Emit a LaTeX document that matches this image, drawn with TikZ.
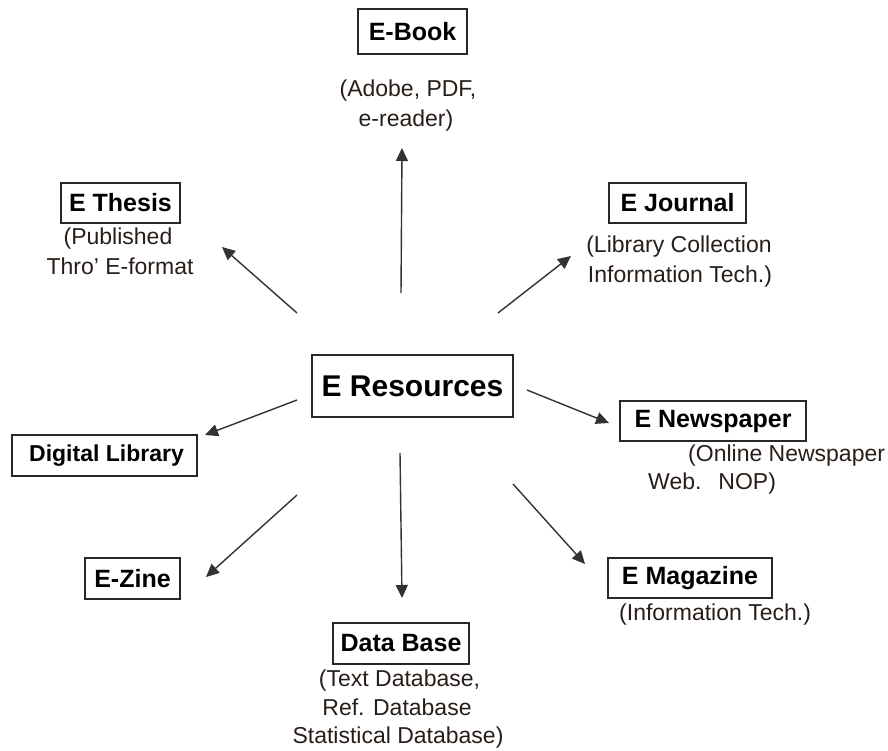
\documentclass[tikz,border=0pt]{standalone}
\usepackage{fontspec}
\setmainfont{Liberation Sans}
\usetikzlibrary{arrows.meta}
\definecolor{txt}{RGB}{40,30,25}
\definecolor{boxc}{RGB}{40,40,40}
\definecolor{linec}{RGB}{50,50,50}
\begin{document}
\begin{tikzpicture}[x=1pt,y=-1pt,
  box/.style={draw=boxc,line width=1.4pt,inner sep=0pt,text=black,
    font=\bfseries\fontsize{25}{30}\selectfont},
  note/.style={anchor=base,inner sep=0pt,text=txt,font=\fontsize{23}{29}\selectfont},
  link/.style={draw=linec,line width=1.4pt,-{Triangle[length=13pt,width=12pt]}}]
\useasboundingbox (0,0) rectangle (888,751);

% boxes
\node[box,minimum width=201pt,minimum height=62pt,font=\bfseries\fontsize{30}{36}\selectfont] (res) at (412.5,386) {E Resources};
\node[box,minimum width=109pt,minimum height=45pt] (ebook) at (412.5,31.5) {E-Book};
\node[box,minimum width=119pt,minimum height=40pt] (thesis) at (120.5,203) {E Thesis};
\node[box,minimum width=137pt,minimum height=40pt] (journal) at (677.5,203) {E Journal};
\node[box,minimum width=185pt,minimum height=41pt,font=\bfseries\fontsize{23}{28}\selectfont] (dlib) at (104.5,455.5) {\hspace{4pt}Digital Library};
\node[box,minimum width=95pt,minimum height=41pt] (zine) at (132.5,578.5) {E-Zine};
\node[box,minimum width=186pt,minimum height=40pt] (news) at (713,421) {E Newspaper};
\node[box,minimum width=164pt,minimum height=40pt] (mag) at (690,578) {E Magazine};
\node[box,minimum width=136pt,minimum height=41pt] (db) at (401,643.5) {Data Base};

% notes
\node[note] (ebook1) at (408,97) {(Adobe, PDF,};
\node[note] (ebook2) at (406,127) {e-reader)};
\node[note] (thesis1) at (118,245) {(Published};
\node[note] (thesis2) at (120,274) {Thro' E-format};
\node[note] (journal1) at (679,253) {(Library Collection};
\node[note] (journal2) at (680,282) {Information Tech.)};
\node[note,anchor=base west] (news1) at (688,461) {(Online Newspaper};
\node[note,anchor=base west] (news2) at (648,489) {Web.\hspace{17pt}NOP)};
\node[note,anchor=base west] (mag1) at (619,620) {(Information Tech.)};
\node[note] (db1) at (399.5,686) {(Text Database,};
\node[note] (db2) at (397,715) {Ref. Database};
\node[note] (db3) at (398,743) {Statistical Database)};

% connector ends
\coordinate (tBook) at (401,293);   \coordinate (hBook) at (402,148);
\coordinate (tThesis) at (297,313); \coordinate (hThesis) at (222,247);
\coordinate (tJournal) at (498,313);\coordinate (hJournal) at (571,256);
\coordinate (tNews) at (527,390);   \coordinate (hNews) at (609,423);
\coordinate (tDlib) at (297,400);   \coordinate (hDlib) at (205,435);
\coordinate (tZine) at (297,495);   \coordinate (hZine) at (206,577);
\coordinate (tDb) at (400,453);     \coordinate (hDb) at (402,598);
\coordinate (tMag) at (513,484);    \coordinate (hMag) at (585,564);

\draw[link] (tBook) -- (hBook);
\draw[link] (tThesis) -- (hThesis);
\draw[link] (tJournal) -- (hJournal);
\draw[link] (tNews) -- (hNews);
\draw[link] (tDlib) -- (hDlib);
\draw[link] (tZine) -- (hZine);
\draw[link] (tDb) -- (hDb);
\draw[link] (tMag) -- (hMag);
\end{tikzpicture}
\end{document}
